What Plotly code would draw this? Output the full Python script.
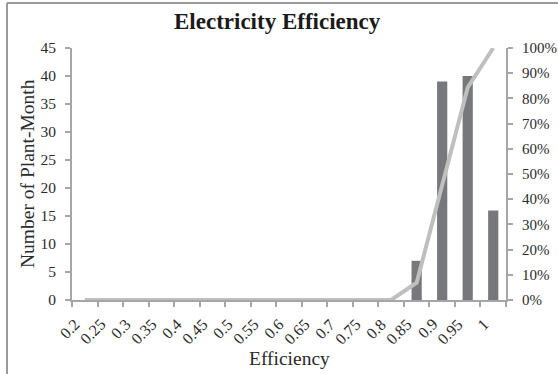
import numpy as np
import plotly.graph_objects as go

# Efficiency bins (category labels) and plant-month counts per bin
bins = ["0.2", "0.25", "0.3", "0.35", "0.4", "0.45", "0.5", "0.55", "0.6",
        "0.65", "0.7", "0.75", "0.8", "0.85", "0.9", "0.95", "1"]
counts = [0, 0, 0, 0, 0, 0, 0, 0, 0, 0, 0, 0, 0, 7, 39, 40, 16]

# Cumulative share of plant-months (0..1)
cum_share = np.cumsum(counts) / np.sum(counts)

left_ticks = list(range(0, 50, 5))
right_ticks = [i / 10 for i in range(0, 11)]
right_labels = [f"{i * 10}%" for i in range(0, 11)]

FONT = "Liberation Serif, Times New Roman, serif"
AXIS_GREY = "#a6a6a6"
TEXT = "#2b2b2b"

W, H = 558, 374
ML, MR, MT, MB = 72, 52, 48, 74
pw = W - ML - MR
ph = H - MT - MB


def px_x(x):
    return (x - ML) / pw


def px_y(y):
    return (H - MB - y) / ph


fig = go.Figure()
fig.add_trace(go.Bar(
    x=bins, y=counts, marker=dict(color="#77787b", line=dict(width=0)),
    yaxis="y", name="Count",
))
fig.add_trace(go.Scatter(
    x=bins, y=cum_share, mode="lines", yaxis="y2",
    line=dict(color="#bfbfbf", width=4), name="Cumulative %",
))

# outer chart frame (left and top edges)
fig.add_shape(type="line", xref="paper", yref="paper", x0=px_x(7), x1=px_x(7),
              y0=px_y(374), y1=px_y(3), line=dict(color="#9a9a9a", width=2))
fig.add_shape(type="line", xref="paper", yref="paper", x0=px_x(7), x1=px_x(W),
              y0=px_y(3), y1=px_y(3), line=dict(color="#9a9a9a", width=2))

# slanted category labels under each bin (category axis positions are indices)
for i, b in enumerate(bins):
    fig.add_annotation(text=b, xref="x", yref="paper", x=i + 0.05, y=px_y(313),
                       showarrow=False, textangle=-45, xanchor="right",
                       yanchor="top", font=dict(family=FONT, size=16, color=TEXT))

# titles
fig.add_annotation(text="<b>Electricity Efficiency</b>", xref="paper", yref="paper",
                   x=px_x(277), y=px_y(22), showarrow=False, xanchor="center",
                   yanchor="middle", font=dict(family=FONT, size=23, color="#1a1a1a"))
fig.add_annotation(text="Number of Plant-Month", xref="paper", yref="paper",
                   x=px_x(27), y=px_y(174), showarrow=False, textangle=-90,
                   xanchor="center", yanchor="middle",
                   font=dict(family=FONT, size=19.5, color=TEXT))
fig.add_annotation(text="Efficiency", xref="paper", yref="paper",
                   x=px_x(289), y=px_y(358), showarrow=False, xanchor="center",
                   yanchor="middle", font=dict(family=FONT, size=19.5, color=TEXT))

fig.update_layout(
    width=W, height=H,
    margin=dict(l=ML, r=MR, t=MT, b=MB, autoexpand=False),
    paper_bgcolor="white", plot_bgcolor="white",
    showlegend=False, bargap=0.6,
    font=dict(family=FONT, size=15, color=TEXT),
    xaxis=dict(
        type="category", categoryorder="array", categoryarray=bins,
        range=[-0.5, len(bins) - 0.5],
        tickson="boundaries", ticks="outside", ticklen=5,
        tickcolor=AXIS_GREY, tickwidth=1.5, showline=True, linecolor=AXIS_GREY,
        linewidth=2, showgrid=False, showticklabels=False, automargin=False,
    ),
    yaxis=dict(
        range=[0, 45], tickvals=left_ticks, ticks="outside", ticklen=5,
        tickcolor=AXIS_GREY, tickwidth=1.5, showline=True, linecolor=AXIS_GREY,
        linewidth=2, showgrid=False, zeroline=False, ticklabelstandoff=6,
        automargin=False, tickfont=dict(family=FONT, size=15.5, color=TEXT),
    ),
    yaxis2=dict(
        overlaying="y", side="right", range=[0, 1], tickvals=right_ticks,
        ticktext=right_labels, ticks="outside", ticklen=5, tickcolor=AXIS_GREY,
        tickwidth=1.5, showline=True, linecolor=AXIS_GREY, linewidth=2,
        showgrid=False, zeroline=False, ticklabelstandoff=6, automargin=False,
        tickfont=dict(family=FONT, size=15, color=TEXT),
    ),
)

fig.write_html("out.html")
